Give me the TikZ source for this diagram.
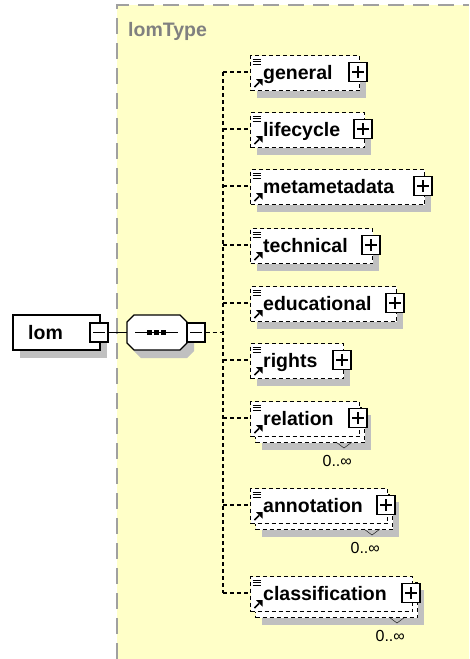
\documentclass[tikz,border=0pt]{standalone}
\usepackage{fontspec}
\setmainfont{Liberation Sans}
\definecolor{areayellow}{RGB}{255,255,200}
\definecolor{areaedge}{RGB}{160,160,160}
\definecolor{typegray}{RGB}{128,128,128}
\definecolor{shadowgray}{RGB}{192,192,192}

% One child element of the sequence: name, row y, right edge, label, repeated (0/1)
\newcommand\xsdchild[5]{%
  \pgfmathsetmacro\cT{#2-17}%
  \pgfmathsetmacro\cW{#3-250}%
  \ifnum#5=1
    \fill[shadowfill] (262,\cT+14) rectangle (#3+12,#2+32);
    \node[elbox, minimum width=\cW pt, anchor=north west] (#1-back) at (255,\cT+6) {};
    \draw[thin] (#3-23,#2+24) -- (#3-15,#2+30) -- (#3-7,#2+24);
    \node[occlabel, anchor=base east] (#1-occ) at (#3-7,#2+48) {0..∞};
  \else
    \fill[shadowfill] (257,\cT+8) rectangle (#3+7,#2+26);
  \fi
  \node[elbox, minimum width=\cW pt, anchor=north west] (#1) at (250,\cT) {};
  \draw[line width=0.8pt] (252.5,\cT+4) -- (261,\cT+4) (252.5,\cT+6.5) -- (261,\cT+6.5) (252.5,\cT+9) -- (261,\cT+9);
  \draw[line width=1.7pt] (254.5,#2+15) -- (259,#2+10.5);
  \fill (262.5,#2+7) -- (262.5,#2+13.5) -- (256,#2+7) -- cycle;
  \node[eltext, anchor=base west] (#1-text) at (263,#2+7) {#4};
  \node[pmbox] (#1-plus) at (#3-1,#2) {};
  \draw[pmline] ([xshift=-6pt]#1-plus.center) -- ([xshift=6pt]#1-plus.center)
                ([yshift=-6pt]#1-plus.center) -- ([yshift=6pt]#1-plus.center);
  \coordinate (#1-tap) at (223,#2);
  \draw[dashconn] (#1-tap) -- (#1-tap -| #1.west);
}

\begin{document}
\begin{tikzpicture}[x=1pt,y=-1pt,
  frameline/.style={line width=1.3pt, draw=black},
  dashconn/.style={line width=1.3pt, dash pattern=on 4pt off 3pt},
  elbox/.style={draw=black, fill=white, line width=1.3pt, dash pattern=on 4pt off 3pt,
                minimum height=35pt, inner sep=0pt},
  rootbox/.style={frameline, fill=white, minimum width=87pt, minimum height=35pt, inner sep=0pt},
  pmbox/.style={frameline, fill=white, minimum width=18pt, minimum height=19pt, inner sep=0pt},
  pmline/.style={line width=1.2pt},
  eltext/.style={inner sep=0pt, font=\bfseries\fontsize{19.5}{22}\selectfont},
  occlabel/.style={inner sep=0pt, font=\fontsize{16}{18}\selectfont},
  typelabel/.style={inner sep=0pt, text=typegray, font=\bfseries\fontsize{19.5}{22}\selectfont},
  shadowfill/.style={fill=shadowgray},
]
\useasboundingbox (0,0) rectangle (469,659);

% complex type area
\fill[areayellow] (117,5) rectangle (469,659);
\draw[areaedge, line width=2pt, dash pattern=on 16pt off 9pt] (117,659) -- (117,5) -- (469,5);
\node[typelabel, anchor=base west] (typename) at (128,36) {lomType};

% root element lom
\fill[shadowfill] (20,323) rectangle (107,358);
\node[rootbox] (lom) at (56.5,332.5) {};
\node[eltext, anchor=base west] (lom-text) at (28,339.5) {lom};
\node[pmbox] (lom-minus) at (99,332.5) {};
\draw[pmline] ([xshift=-6pt]lom-minus.center) -- ([xshift=6pt]lom-minus.center);

% sequence compositor
\fill[shadowfill] (141,323) -- (187,323) -- (194,330) -- (194,351) -- (187,358) -- (141,358) -- (134,351) -- (134,330) -- cycle;
\draw[frameline, fill=white] (134,315) -- (180,315) -- (187,322) -- (187,343) -- (180,350) -- (134,350) -- (127,343) -- (127,322) -- cycle;
\node[minimum width=60pt, minimum height=35pt, inner sep=0pt] (seq) at (157,332.5) {};
\draw[line width=1.3pt] (135,332.5) -- (178,332.5);
\foreach \dx in {149,156,163} \fill (\dx-2.5,330) rectangle (\dx+2.5,335);
\node[pmbox] (seq-minus) at (196,332.5) {};
\draw[pmline] ([xshift=-6pt]seq-minus.center) -- ([xshift=6pt]seq-minus.center);
\draw[frameline] (lom-minus.east) -- (seq.west);

% children
\xsdchild{general}{72}{359}{general}{0}
\xsdchild{lifecycle}{129}{364}{lifecycle}{0}
\xsdchild{metametadata}{186}{424}{metametadata}{0}
\xsdchild{technical}{245}{372}{technical}{0}
\xsdchild{educational}{303}{396}{educational}{0}
\xsdchild{rights}{360}{343}{rights}{0}
\xsdchild{relation}{418}{359}{relation}{1}
\xsdchild{annotation}{505}{387}{annotation}{1}
\xsdchild{classification}{593}{412}{classification}{1}

% branch spine
\draw[dashconn] (general-tap) -- (classification-tap);
\draw[dashconn] (seq-minus.east) -- (seq-minus.east -| general-tap);
\end{tikzpicture}
\end{document}
